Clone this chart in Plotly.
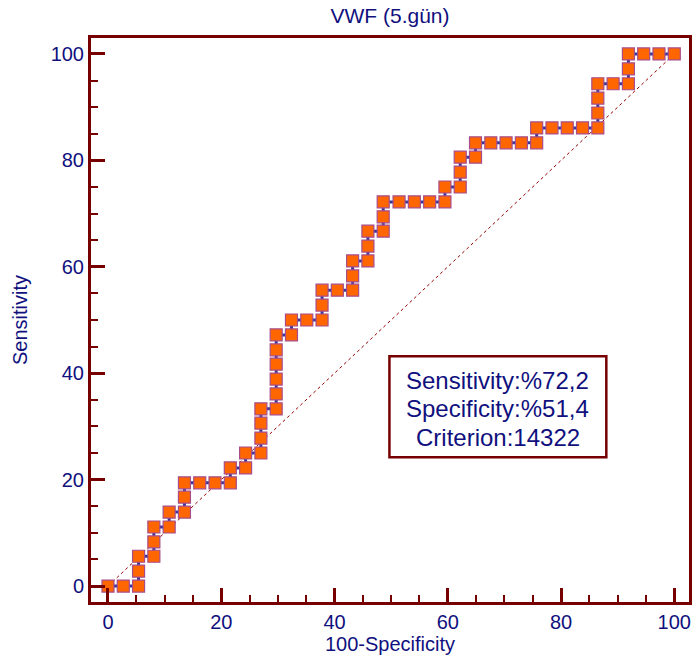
import plotly.graph_objects as go

# 100-Specificity (x) and Sensitivity (y) of the ROC step curve
fpr = [0, 2.7, 5.4, 5.4, 5.4, 8.1, 8.1, 8.1, 10.8, 10.8,
       13.5, 13.5, 13.5, 16.2, 18.9, 21.6, 21.6, 24.3, 24.3, 27.0,
       27.0, 27.0, 27.0, 29.7, 29.7, 29.7, 29.7, 29.7, 29.7, 32.4,
       32.4, 35.1, 37.8, 37.8, 37.8, 40.5, 43.2, 43.2, 43.2, 45.9,
       45.9, 45.9, 48.6, 48.6, 48.6, 51.4, 54.1, 56.8, 59.5, 59.5,
       62.2, 62.2, 62.2, 64.9, 64.9, 67.6, 70.3, 73.0, 75.7, 75.7,
       78.4, 81.1, 83.8, 86.5, 86.5, 86.5, 86.5, 89.2, 91.9, 91.9,
       91.9, 94.6, 97.3, 100]
sens = [0, 0, 0, 2.8, 5.6, 5.6, 8.3, 11.1, 11.1, 13.9,
        13.9, 16.7, 19.4, 19.4, 19.4, 19.4, 22.2, 22.2, 25.0, 25.0,
        27.8, 30.6, 33.3, 33.3, 36.1, 38.9, 41.7, 44.4, 47.2, 47.2,
        50.0, 50.0, 50.0, 52.8, 55.6, 55.6, 55.6, 58.3, 61.1, 61.1,
        63.9, 66.7, 66.7, 69.4, 72.2, 72.2, 72.2, 72.2, 72.2, 75.0,
        75.0, 77.8, 80.6, 80.6, 83.3, 83.3, 83.3, 83.3, 83.3, 86.1,
        86.1, 86.1, 86.1, 86.1, 88.9, 91.7, 94.4, 94.4, 94.4, 97.2,
        100, 100, 100, 100]

diag_x = [0, 100]
diag_y = [0, 100]

title_text = "VWF (5.gün)"
x_title = "100-Specificity"
y_title = "Sensitivity"
box_lines = ["Sensitivity:%72,2", "Specificity:%51,4", "Criterion:14322"]

FRAME = "#760000"
TEXT = "#10107e"
FONT = "Liberation Sans, Arial, sans-serif"

fig = go.Figure()
fig.add_trace(go.Scatter(
    x=diag_x, y=diag_y, mode="lines",
    line=dict(color="#990000", width=1, dash="dot"),
    hoverinfo="skip", showlegend=False))
fig.add_trace(go.Scatter(
    x=fpr, y=sens, mode="lines+markers",
    line=dict(color="#363699", width=3),
    marker=dict(symbol="square", size=12, color="#ff6600",
                line=dict(color="#a84c8c", width=1.2)),
    showlegend=False))

axis_common = dict(
    showline=True, linecolor=FRAME, linewidth=3, mirror=True,
    showgrid=False, zeroline=False,
    ticks="inside", ticklen=14, tickwidth=3, tickcolor=FRAME,
    tick0=0, dtick=20,
    minor=dict(ticks="inside", ticklen=7, tickwidth=2, tickcolor=FRAME, dtick=5, tick0=0, showgrid=False),
    tickfont=dict(family=FONT, size=20, color=TEXT),
)

# info box frame (data coordinates) and its three text lines
box_x0, box_x1, box_y0, box_y1 = 49.7, 88.0, 24.2, 43.2
line_y = [38.7, 33.3, 28.0]

annotations = [dict(x=(box_x0 + box_x1) / 2, y=yy, xref="x", yref="y",
                    text=t, showarrow=False, xanchor="center", yanchor="middle",
                    font=dict(family=FONT, size=24, color=TEXT))
               for t, yy in zip(box_lines, line_y)]

fig.update_layout(
    width=697, height=665,
    margin=dict(l=91, r=5, t=38, b=63),
    paper_bgcolor="white", plot_bgcolor="white",
    title=dict(text=title_text, x=0.5, xref="paper", y=1, yref="container",
               yanchor="top", pad=dict(t=8),
               font=dict(family=FONT, size=21, color=TEXT)),
    xaxis=dict(range=[-3.0, 102.6],
               title=dict(text=x_title, font=dict(family=FONT, size=20, color=TEXT), standoff=4),
               **axis_common),
    yaxis=dict(range=[-3.0, 103.0],
               title=dict(text=y_title, font=dict(family=FONT, size=20, color=TEXT), standoff=18),
               **axis_common),
    shapes=[dict(type="rect", xref="x", yref="y", x0=box_x0, x1=box_x1, y0=box_y0, y1=box_y1,
                 line=dict(color=FRAME, width=2.5), fillcolor="white", layer="above")],
    annotations=annotations,
)

fig.write_html("out.html")
